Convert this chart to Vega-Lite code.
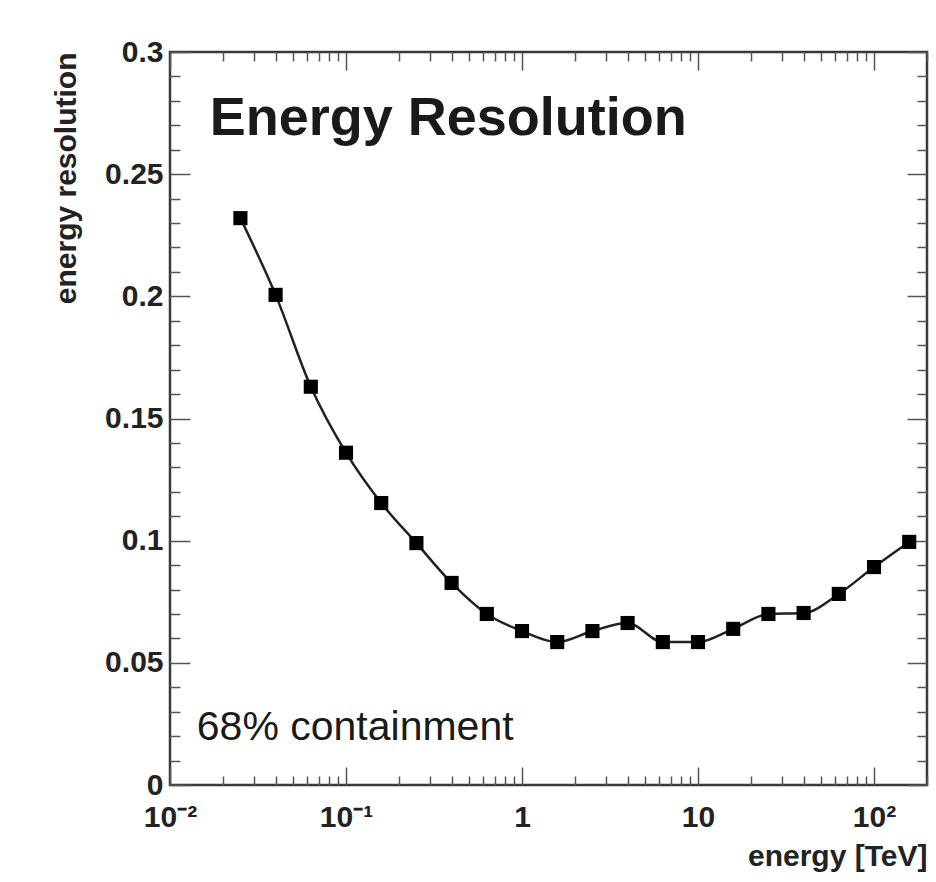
{
  "$schema": "https://vega.github.io/schema/vega-lite/v6.json",
  "width": 757,
  "height": 733,
  "autosize": {"type": "none"},
  "padding": {"left": 170, "top": 52, "right": 9, "bottom": 97},
  "background": "white",
  "config": {
    "view": {"stroke": "#3a3a3a", "strokeWidth": 2.5},
    "font": "Liberation Sans",
    "axis": {"domain": false, "grid": false, "tickColor": "#555", "tickWidth": 1.5,
      "labelFont": "Liberation Sans", "titleFont": "Liberation Sans", "labelColor": "#222", "titleColor": "#222"}
  },
  "data": {"values": [
    {"energy": 0.02512, "res": 0.232},
    {"energy": 0.03981, "res": 0.2006},
    {"energy": 0.0631, "res": 0.163},
    {"energy": 0.1, "res": 0.136},
    {"energy": 0.1585, "res": 0.1154},
    {"energy": 0.2512, "res": 0.099},
    {"energy": 0.3981, "res": 0.0827},
    {"energy": 0.631, "res": 0.070},
    {"energy": 1.0, "res": 0.063},
    {"energy": 1.585, "res": 0.0585},
    {"energy": 2.512, "res": 0.063},
    {"energy": 3.981, "res": 0.0663},
    {"energy": 6.31, "res": 0.0585},
    {"energy": 10.0, "res": 0.0585},
    {"energy": 15.85, "res": 0.0639},
    {"energy": 25.12, "res": 0.070},
    {"energy": 39.81, "res": 0.0704},
    {"energy": 63.1, "res": 0.0782},
    {"energy": 100.0, "res": 0.0892},
    {"energy": 158.5, "res": 0.0995}
  ]},
  "resolve": {"axis": {"x": "independent", "y": "independent"}},
  "layer": [
    {
      "mark": {"type": "line", "color": "#222", "strokeWidth": 2.5, "interpolate": "monotone"},
      "encoding": {
        "x": {"field": "energy", "type": "quantitative",
          "scale": {"type": "log", "domain": [0.01, 200], "nice": false},
          "axis": {"orient": "bottom", "title": "energy [TeV]", "titleAnchor": "end", "titleFontSize": 30, "titleFontWeight": "bold", "titlePadding": 0,
            "values": [0.01,0.02,0.03,0.04,0.05,0.06,0.07,0.08,0.09,0.1,0.2,0.3,0.4,0.5,0.6,0.7,0.8,0.9,1,2,3,4,5,6,7,8,9,10,20,30,40,50,60,70,80,90,100,200],
            "labelExpr": "datum.value == 0.01 ? '10⁻²' : datum.value == 0.1 ? '10⁻¹' : datum.value == 1 ? '1' : datum.value == 10 ? '10' : datum.value == 100 ? '10²' : ''",
            "labelFontSize": 30, "labelFontWeight": "bold", "labelPadding": 35, "labelFlush": false, "labelOverlap": false,
            "tickSize": {"condition": {"test": "abs(log(datum.value)/LN10 - round(log(datum.value)/LN10)) < 0.000001", "value": -18}, "value": -9}}},
        "y": {"field": "res", "type": "quantitative",
          "scale": {"domain": [0, 0.3], "nice": false, "zero": false},
          "axis": {"orient": "left", "title": "energy resolution", "titleAnchor": "end", "titleFontSize": 30, "titleFontWeight": "bold", "titlePadding": 23,
            "values": [0,0.01,0.02,0.03,0.04,0.05,0.06,0.07,0.08,0.09,0.1,0.11,0.12,0.13,0.14,0.15,0.16,0.17,0.18,0.19,0.2,0.21,0.22,0.23,0.24,0.25,0.26,0.27,0.28,0.29,0.3],
            "labelExpr": "abs(datum.value*20 - round(datum.value*20)) < 0.000001 ? format(datum.value, '~g') : ''",
            "labelFontSize": 30, "labelFontWeight": "bold", "labelPadding": 27, "labelFlush": false, "labelOverlap": false,
            "tickSize": {"condition": {"test": "abs(datum.value*20 - round(datum.value*20)) < 0.000001", "value": -20}, "value": -10}}}
      }
    },
    {
      "mark": {"type": "square", "color": "#000", "size": 200, "opacity": 1},
      "encoding": {
        "x": {"field": "energy", "type": "quantitative",
          "axis": {"orient": "top", "title": null, "labels": false,
            "values": [0.01,0.02,0.03,0.04,0.05,0.06,0.07,0.08,0.09,0.1,0.2,0.3,0.4,0.5,0.6,0.7,0.8,0.9,1,2,3,4,5,6,7,8,9,10,20,30,40,50,60,70,80,90,100,200],
            "tickSize": {"condition": {"test": "abs(log(datum.value)/LN10 - round(log(datum.value)/LN10)) < 0.000001", "value": -18}, "value": -9}}},
        "y": {"field": "res", "type": "quantitative",
          "axis": {"orient": "right", "title": null, "labels": false,
            "values": [0,0.01,0.02,0.03,0.04,0.05,0.06,0.07,0.08,0.09,0.1,0.11,0.12,0.13,0.14,0.15,0.16,0.17,0.18,0.19,0.2,0.21,0.22,0.23,0.24,0.25,0.26,0.27,0.28,0.29,0.3],
            "tickSize": {"condition": {"test": "abs(datum.value*20 - round(datum.value*20)) < 0.000001", "value": -20}, "value": -10}}}
      }
    },
    {
      "data": {"values": [{"label": "Energy Resolution", "ex": 0.0168, "ey": 0.266}]},
      "mark": {"type": "text", "align": "left", "baseline": "alphabetic", "font": "Liberation Sans", "fontWeight": "bold", "fontSize": 54, "color": "#1a1a1a"},
      "encoding": {
        "x": {"field": "ex", "type": "quantitative", "axis": null},
        "y": {"field": "ey", "type": "quantitative", "axis": null},
        "text": {"field": "label"}
      }
    },
    {
      "data": {"values": [{"label": "68% containment", "ex": 0.0142, "ey": 0.0184}]},
      "mark": {"type": "text", "align": "left", "baseline": "alphabetic", "font": "Liberation Sans", "fontSize": 41, "color": "#1a1a1a"},
      "encoding": {
        "x": {"field": "ex", "type": "quantitative", "axis": null},
        "y": {"field": "ey", "type": "quantitative", "axis": null},
        "text": {"field": "label"}
      }
    }
  ]
}
